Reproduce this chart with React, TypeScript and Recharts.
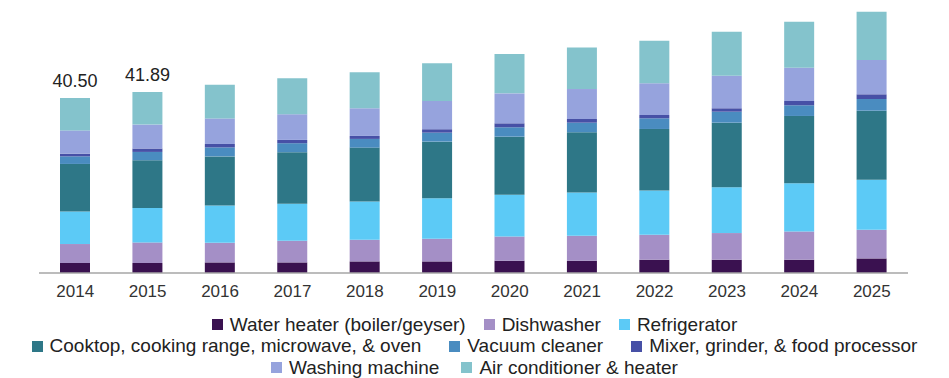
import React from "react";
import {
  BarChart,
  Bar,
  XAxis,
  YAxis,
  Legend,
  LabelList,
} from "recharts";

const YEARS = [
  "2014", "2015", "2016", "2017", "2018", "2019",
  "2020", "2021", "2022", "2023", "2024", "2025",
];

const WATER_HEATER = [2.31, 2.31, 2.45, 2.45, 2.68, 2.68, 2.84, 2.84, 3.07, 3.07, 3.07, 3.37];
const DISHWASHER = [4.39, 4.76, 4.53, 5.01, 5.01, 5.24, 5.61, 5.77, 5.77, 6.17, 6.54, 6.63];
const REFRIGERATOR = [7.53, 7.94, 8.61, 8.55, 8.85, 9.4, 9.63, 10.0, 10.23, 10.62, 11.18, 11.55];
const COOKTOP = [11.0, 11.08, 11.39, 11.94, 12.47, 13.07, 13.46, 13.95, 14.25, 14.92, 15.54, 16.0];
const VACUUM = [1.76, 1.92, 2.08, 2.08, 2.01, 2.08, 2.17, 2.22, 2.47, 2.54, 2.47, 2.7];
const MIXER = [0.62, 0.79, 0.79, 0.76, 0.69, 0.79, 0.92, 0.85, 0.76, 0.79, 0.99, 1.09];
const WASHING = [5.38, 5.54, 5.91, 5.94, 6.4, 6.54, 6.93, 6.93, 7.32, 7.53, 7.69, 7.92];
const AIR = [7.5, 7.55, 7.78, 8.31, 8.31, 8.71, 9.08, 9.63, 9.84, 10.16, 10.62, 11.15];

// only the first two years carry a total label in the source
const TOP_LABELS = ["40.50", "41.89", "", "", "", "", "", "", "", "", "", ""];

const SERIES = [
  { key: "water", name: "Water heater (boiler/geyser)", values: WATER_HEATER, color: "#3a1150" },
  { key: "dish", name: "Dishwasher", values: DISHWASHER, color: "#a48fc6" },
  { key: "fridge", name: "Refrigerator", values: REFRIGERATOR, color: "#5ccaf6" },
  { key: "cooktop", name: "Cooktop, cooking range, microwave, & oven", values: COOKTOP, color: "#2e7787" },
  { key: "vacuum", name: "Vacuum cleaner", values: VACUUM, color: "#4a8cc0" },
  { key: "mixer", name: "Mixer, grinder, & food processor", values: MIXER, color: "#4750a6" },
  { key: "washing", name: "Washing machine", values: WASHING, color: "#96a3dd" },
  { key: "air", name: "Air conditioner & heater", values: AIR, color: "#84c3cc" },
];

const LEGEND_ROWS = [[0, 1, 2], [3, 4, 5], [6, 7]];
const ROW_GAPS = [9, 14, 11];

function LegendRows(props: any) {
  const payload: any[] = props.payload || [];
  return (
    <div style={{ width: 949 }}>
      {LEGEND_ROWS.map((row, r) => (
        <div
          key={r}
          style={{
            display: "flex",
            justifyContent: "center",
            height: 21.5,
            alignItems: "center",
          }}
        >
          {row.map((i) => {
            // payload comes sorted by name, so look items up in series order
            const item = payload.find((p) => p.value === SERIES[i].name);
            if (!item) return null;
            return (
              <div
                key={i}
                style={{
                  display: "flex",
                  alignItems: "center",
                  margin: `0 ${ROW_GAPS[r]}px`,
                }}
              >
                <span
                  style={{
                    display: "inline-block",
                    width: 11,
                    height: 11,
                    background: item.color,
                    marginRight: 7,
                  }}
                />
                <span style={{ fontSize: 19, color: "#222", whiteSpace: "nowrap" }}>
                  {item.value}
                </span>
              </div>
            );
          })}
        </div>
      ))}
    </div>
  );
}

export default function App() {
  const data = YEARS.map((year, i) => {
    const row: Record<string, string | number> = { year, label: TOP_LABELS[i] };
    SERIES.forEach((s) => {
      row[s.key] = s.values[i];
    });
    return row;
  });

  return (
    <div
      style={{
        position: "absolute",
        left: 0,
        top: 0,
        width: 949,
        height: 378,
        background: "#fff",
        fontFamily: "'Liberation Sans', Arial, sans-serif",
      }}
    >
      <BarChart
        width={949}
        height={378}
        data={data}
        margin={{ top: 5, right: 41, bottom: 75, left: 39 }}
      >
        <XAxis
          dataKey="year"
          axisLine={{ stroke: "#a6a6a6", strokeWidth: 1.5 }}
          tickLine={false}
          tickMargin={6}
          height={30}
          tick={{ fontSize: 17, fill: "#333" }}
        />
        <YAxis hide domain={[0, 62]} />
        {SERIES.map((s, idx) => (
          <Bar
            key={s.key}
            dataKey={s.key}
            name={s.name}
            stackId="a"
            fill={s.color}
            barSize={30}
            isAnimationActive={false}
          >
            {idx === SERIES.length - 1 && (
              <LabelList
                dataKey="label"
                position="top"
                offset={11}
                style={{ fontSize: 18, fill: "#222" }}
              />
            )}
          </Bar>
        ))}
        <Legend
          verticalAlign="middle"
          content={<LegendRows />}
          wrapperStyle={{ top: 314, left: 0, width: 949 }}
        />
      </BarChart>
    </div>
  );
}
